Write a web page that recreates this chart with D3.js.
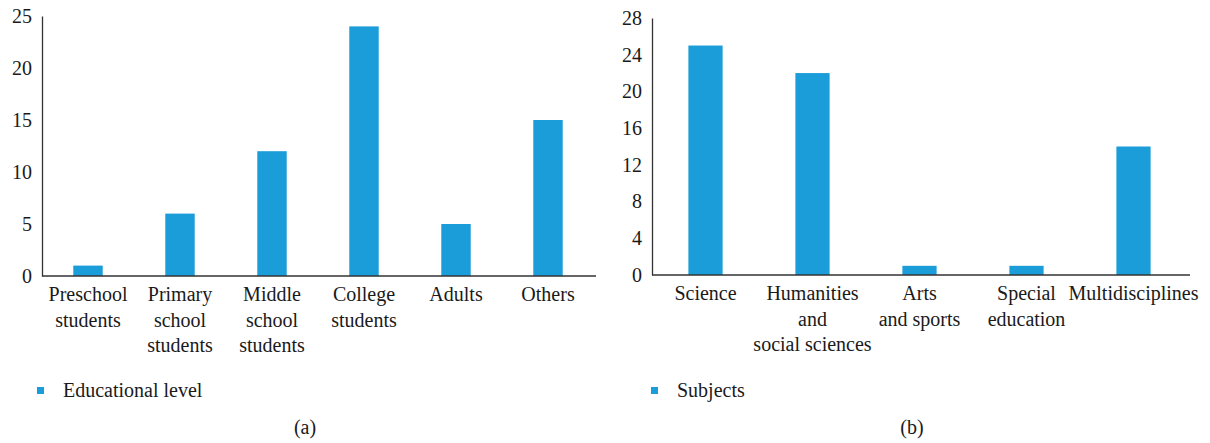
<!DOCTYPE html>
<html>
<head>
<meta charset="utf-8">
<script src="https://cdn.jsdelivr.net/npm/d3@7"></script>
<style>
  body { margin: 0; background: #fff; }
</style>
</head>
<body>
<svg id="chart" width="1210" height="443"></svg>
<script>
// panel (a)
const levelCategories = [
    ["Preschool", "students"],
    ["Primary", "school", "students"],
    ["Middle", "school", "students"],
    ["College", "students"],
    ["Adults"],
    ["Others"]
];
const levelValues = [1, 6, 12, 24, 5, 15];
const levelTicks = [0, 5, 10, 15, 20, 25];

// panel (b)
const subjectCategories = [
    ["Science"],
    ["Humanities", "and", "social sciences"],
    ["Arts", "and sports"],
    ["Special", "education"],
    ["Multidisciplines"]
];
const subjectValues = [25, 22, 1, 1, 14];
const subjectTicks = [0, 4, 8, 12, 16, 20, 24, 28];

const barColor = "#1b9dd9";
const fontFamily = "'Liberation Serif', serif";
const textColor = "#1a1a1a";
const svg = d3.select("#chart");

function styleText(sel, size) {
    sel.style("font-family", fontFamily)
        .style("font-size", size + "px")
        .style("fill", textColor);
}

function drawPanel(opt) {
    const g = svg.append("g");

    let x = d3.scaleBand()
        .domain(d3.range(opt.values.length))
        .range([opt.left, opt.right])
        .paddingInner(0.68)
        .paddingOuter(0.34);

    let y = d3.scaleLinear()
        .domain([0, opt.max])
        .range([opt.bottom, opt.top]);

    // bars
    g.selectAll("rect.bar")
        .data(opt.values)
        .enter().append("rect")
        .attr("class", "bar")
        .attr("x", (d, i) => x(i))
        .attr("width", x.bandwidth())
        .attr("y", d => y(d))
        .attr("height", d => y(0) - y(d))
        .attr("fill", barColor);

    // y axis
    let yAxis = d3.axisLeft(y).tickValues(opt.ticks).tickSize(0).tickPadding(10);
    let ay = g.append("g")
        .attr("transform", "translate(" + opt.left + ",0)")
        .call(yAxis);
    ay.select(".domain").attr("stroke", "#333").attr("stroke-width", 1.3);
    styleText(ay.selectAll("text"), 20);

    // x axis line
    g.append("line")
        .attr("x1", opt.left).attr("x2", opt.axisEnd)
        .attr("y1", y(0)).attr("y2", y(0))
        .attr("stroke", "#333").attr("stroke-width", 1.3);

    // category labels, multiline
    let lab = g.selectAll("text.cat")
        .data(opt.categories)
        .enter().append("text")
        .attr("class", "cat")
        .attr("text-anchor", "middle")
        .attr("transform", (d, i) => "translate(" + (x(i) + x.bandwidth() / 2) + "," + (y(0) + 25) + ")");
    styleText(lab, 20);
    lab.selectAll("tspan")
        .data(d => d)
        .enter().append("tspan")
        .attr("x", 0)
        .attr("dy", (d, i) => i === 0 ? 0 : 25.5)
        .text(d => d);

    // legend
    g.append("rect")
        .attr("x", opt.legendX).attr("y", 387)
        .attr("width", 7).attr("height", 7)
        .attr("fill", barColor);
    styleText(g.append("text")
        .attr("x", opt.legendX + 26).attr("y", 397)
        .text(opt.legend), 20);

    // caption
    styleText(g.append("text")
        .attr("x", opt.captionX).attr("y", 434)
        .attr("text-anchor", "middle")
        .text(opt.caption), 20);
}

drawPanel({
    categories: levelCategories, values: levelValues, ticks: levelTicks, max: 25,
    left: 42, right: 594, axisEnd: 596, top: 16, bottom: 276,
    legendX: 37, legend: "Educational level", captionX: 305, caption: "(a)"
});

drawPanel({
    categories: subjectCategories, values: subjectValues, ticks: subjectTicks, max: 28,
    left: 652, right: 1187, axisEnd: 1190, top: 18, bottom: 275,
    legendX: 651, legend: "Subjects", captionX: 912, caption: "(b)"
});
</script>
</body>
</html>
